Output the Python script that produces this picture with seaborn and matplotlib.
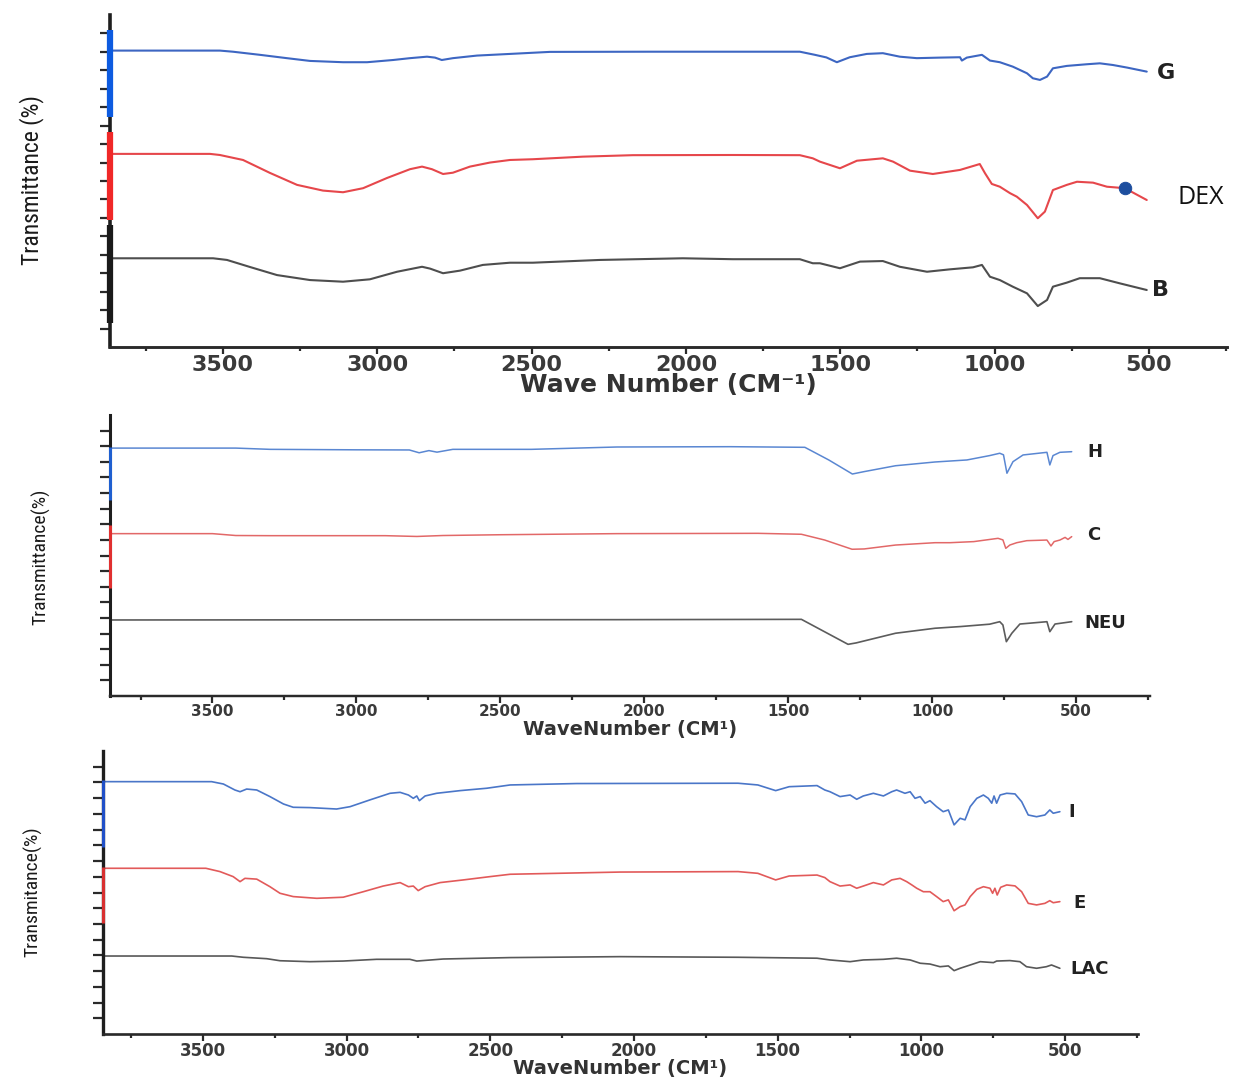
import numpy as np
import pandas as pd
import seaborn as sns
import matplotlib.pyplot as plt

sns.set_style("ticks")
plt.rcParams['font.family'] = ['DejaVu Sans']

# ---------------- FTIR spectra (wavenumber in cm-1, stacked transmittance) ----------------
# Panel 1: G, DEX, B
g_wn = [3866, 3510, 3468, 3380, 3293, 3218, 3111, 3033, 2949, 2894, 2839, 2813, 2791, 2755, 2677,
        2570, 2441, 2117, 1631, 1582, 1545, 1511, 1469, 1414, 1362, 1307, 1252, 1177, 1112, 1106,
        1090, 1041, 1015, 983, 941, 895, 876, 853, 830, 811, 766, 701, 659, 617, 571, 507]
g_t = [16.07, 16.07, 16.01, 15.84, 15.66, 15.51, 15.44, 15.44, 15.56, 15.66, 15.74, 15.69, 15.56,
       15.66, 15.80, 15.89, 16.00, 16.01, 16.01, 15.84, 15.70, 15.44, 15.71, 15.89, 15.93, 15.74,
       15.66, 15.69, 15.71, 15.53, 15.69, 15.84, 15.53, 15.44, 15.20, 14.84, 14.57, 14.48, 14.66,
       15.11, 15.24, 15.33, 15.38, 15.29, 15.15, 14.93]

dex_wn = [3866, 3542, 3510, 3435, 3348, 3260, 3176, 3111, 3046, 2969, 2894, 2855, 2823, 2787, 2755,
          2700, 2635, 2570, 2496, 2334, 2172, 1848, 1631, 1589, 1566, 1501, 1446, 1362, 1329, 1274,
          1200, 1112, 1048, 1031, 1009, 983, 950, 928, 895, 860, 837, 811, 766, 733, 681, 636, 578, 507]
dex_t = [10.47, 10.47, 10.41, 10.14, 9.44, 8.79, 8.48, 8.39, 8.61, 9.16, 9.64, 9.78, 9.64, 9.38,
         9.45, 9.78, 10.00, 10.14, 10.18, 10.32, 10.40, 10.41, 10.40, 10.23, 10.05, 9.69, 10.10,
         10.23, 10.05, 9.56, 9.38, 9.60, 9.92, 9.42, 8.84, 8.69, 8.34, 8.15, 7.70, 6.98, 7.34, 8.51,
         8.79, 8.96, 8.91, 8.69, 8.61, 7.97]
dex_mark_wn = [578]
dex_mark_t = [8.61]

b_wn = [3866, 3532, 3487, 3413, 3325, 3218, 3111, 3024, 2936, 2855, 2829, 2787, 2732, 2658, 2570,
        2496, 2279, 2010, 1848, 1631, 1589, 1566, 1501, 1436, 1362, 1307, 1219, 1145, 1070, 1041,
        1015, 983, 941, 895, 860, 830, 811, 766, 724, 659, 594, 507]
b_t = [4.81, 4.81, 4.72, 4.34, 3.90, 3.63, 3.54, 3.67, 4.08, 4.35, 4.25, 4.00, 4.14, 4.45, 4.57,
       4.57, 4.72, 4.81, 4.76, 4.76, 4.54, 4.54, 4.27, 4.63, 4.66, 4.35, 4.08, 4.21, 4.32, 4.45,
       3.81, 3.63, 3.27, 2.91, 2.22, 2.55, 3.27, 3.49, 3.73, 3.73, 3.45, 3.09]

# Panel 2: H, C, NEU
h_wn = [3856, 3419, 3300, 3000, 2816, 2782, 2748, 2720, 2665, 2392, 2095, 1700, 1442, 1359, 1277,
        1237, 1127, 990, 879, 800, 765, 752, 740, 719, 684, 601, 591, 580, 556, 515]
h_t = [15.88, 15.88, 15.80, 15.77, 15.76, 15.58, 15.72, 15.62, 15.80, 15.80, 15.95, 15.97, 15.93,
       15.12, 14.22, 14.37, 14.75, 14.99, 15.12, 15.40, 15.55, 15.45, 14.27, 15.01, 15.44, 15.61,
       14.80, 15.40, 15.61, 15.65]

c_wn = [3856, 3500, 3419, 3300, 2900, 2790, 2700, 2500, 2095, 1605, 1454, 1373, 1278, 1236, 1127,
        990, 938, 855, 771, 754, 744, 730, 706, 671, 601, 587, 576, 556, 538, 528, 515]
c_t = [10.40, 10.40, 10.28, 10.27, 10.27, 10.22, 10.28, 10.33, 10.40, 10.42, 10.36, 9.99, 9.40,
       9.42, 9.67, 9.82, 9.82, 9.89, 10.10, 10.00, 9.46, 9.67, 9.82, 9.95, 9.99, 9.61, 9.89, 9.99,
       10.16, 10.03, 10.21]

neu_wn = [3856, 2095, 1454, 1292, 1264, 1127, 990, 900, 800, 765, 754, 742, 723, 695, 601, 591,
          573, 515]
neu_t = [4.87, 4.89, 4.91, 3.31, 3.40, 4.02, 4.34, 4.45, 4.60, 4.76, 4.55, 3.48, 4.02, 4.61, 4.76,
         4.12, 4.61, 4.76]

# Panel 3: I, E, LAC
i_wn = [3848, 3470, 3429, 3389, 3371, 3348, 3313, 3267, 3220, 3186, 3128, 3035, 2988, 2919, 2849,
        2814, 2785, 2768, 2756, 2747, 2727, 2687, 2605, 2513, 2431, 2200, 1638, 1569, 1507, 1460,
        1363, 1336, 1318, 1283, 1248, 1225, 1202, 1167, 1132, 1103, 1086, 1057, 1039, 1022, 1004,
        987, 970, 947, 924, 906, 886, 865, 848, 830, 807, 784, 767, 755, 747, 738, 726, 703, 674,
        651, 628, 599, 570, 553, 541, 518]
i_t = [16.05, 16.05, 15.90, 15.52, 15.41, 15.58, 15.52, 15.10, 14.63, 14.42, 14.40, 14.31, 14.46,
       14.89, 15.31, 15.37, 15.20, 14.99, 15.14, 14.84, 15.14, 15.31, 15.48, 15.63, 15.84, 15.93,
       15.95, 15.84, 15.48, 15.73, 15.80, 15.52, 15.41, 15.10, 15.20, 14.93, 15.14, 15.31, 15.14,
       15.41, 15.52, 15.31, 15.41, 14.99, 15.10, 14.68, 14.84, 14.46, 14.14, 14.25, 13.30, 13.72,
       13.62, 14.46, 14.99, 15.20, 14.99, 14.68, 15.14, 14.68, 15.20, 15.31, 15.27, 14.78, 13.93,
       13.82, 13.93, 14.25, 14.04, 14.14]

e_wn = [3848, 3490, 3441, 3395, 3371, 3354, 3313, 3267, 3232, 3186, 3104, 3012, 2942, 2873, 2814,
        2785, 2768, 2751, 2727, 2675, 2594, 2501, 2431, 2049, 1638, 1569, 1507, 1460, 1363, 1336,
        1318, 1283, 1248, 1225, 1202, 1167, 1132, 1103, 1074, 1051, 1033, 1016, 993, 970, 947, 924,
        906, 886, 865, 848, 830, 807, 784, 761, 752, 744, 736, 724, 703, 674, 651, 628, 599, 570,
        553, 541, 518]
e_t = [10.54, 10.54, 10.33, 10.01, 9.69, 9.90, 9.85, 9.37, 8.95, 8.74, 8.63, 8.70, 9.05, 9.41,
       9.63, 9.37, 9.41, 9.12, 9.37, 9.63, 9.80, 10.01, 10.16, 10.30, 10.33, 10.22, 9.80, 10.05,
       10.11, 9.95, 9.69, 9.41, 9.48, 9.27, 9.41, 9.63, 9.48, 9.80, 9.90, 9.69, 9.48, 9.27, 9.05,
       9.05, 8.74, 8.42, 8.53, 7.84, 8.10, 8.21, 8.74, 9.20, 9.37, 9.27, 8.95, 9.27, 8.84, 9.33,
       9.48, 9.42, 9.05, 8.31, 8.21, 8.31, 8.48, 8.35, 8.42]

lac_wn = [3848, 3400, 3360, 3278, 3232, 3128, 3012, 2896, 2780, 2756, 2664, 2431, 2049, 1638, 1363,
          1318, 1248, 1202, 1132, 1086, 1039, 1004, 970, 935, 906, 886, 865, 830, 795, 749, 738,
          692, 657, 634, 599, 565, 547, 518]
lac_t = [4.96, 4.96, 4.88, 4.79, 4.66, 4.60, 4.64, 4.75, 4.75, 4.64, 4.77, 4.86, 4.92, 4.88, 4.82,
         4.71, 4.60, 4.71, 4.75, 4.82, 4.71, 4.50, 4.45, 4.28, 4.33, 4.03, 4.18, 4.39, 4.60, 4.54,
         4.64, 4.67, 4.60, 4.28, 4.18, 4.28, 4.39, 4.18]

# Axis ticks
major_ticks = [3500, 3000, 2500, 2000, 1500, 1000, 500]
tick_labels = ["3500", "3000", "2500", "2000", "1500", "1000", "500"]
minor_ticks = [3750, 3250, 2750, 2250, 1750, 1250, 750, 250]

# Coloured layer bars along each y axis (bottom, top) in axis units
layer_bars_1 = [(12.47, 17.19), (6.89, 11.66), (1.30, 6.62)]
layer_bars_2 = [(12.56, 15.95), (6.92, 10.95)]
layer_bars_3 = [(11.90, 16.16), (7.06, 10.62)]

narrow = ['Liberation Sans Narrow', 'Roboto Condensed', 'DejaVu Sans']

fig = plt.figure(figsize=(12.37, 10.78), dpi=100)
fig.patch.set_facecolor('white')

ax1 = fig.add_axes([110 / 1237, 1 - 347 / 1078, 1117 / 1237, 332 / 1078])
ax2 = fig.add_axes([110 / 1237, 1 - 696 / 1078, 1040 / 1237, 281 / 1078])
ax3 = fig.add_axes([103 / 1237, 1 - 1034 / 1078, 1035 / 1237, 283 / 1078])


def draw(ax, wn, t, color, lw):
    sns.lineplot(x=wn, y=t, ax=ax, color=color, linewidth=lw, estimator=None, sort=False)


def style(ax, xlim, tick_fs, spine_lw, ylabel, ylab_fs, ylab_xy, xlabel, xlab_fs, xlab_y,
          bars, bar_colors, bar_lw):
    ax.set_xlim(*xlim)
    ax.set_ylim(0, 18)
    ax.set_xticks(major_ticks)
    ax.set_xticklabels(tick_labels, fontsize=tick_fs, fontweight='bold', color='#3a3a3a')
    ax.set_xticks(minor_ticks, minor=True)
    ax.set_yticks(range(1, 18))
    ax.set_yticklabels([])
    sns.despine(ax=ax)
    ax.spines['left'].set_linewidth(spine_lw)
    ax.spines['bottom'].set_linewidth(spine_lw * 0.8)
    ax.spines['left'].set_color('#1e1e1e')
    ax.spines['bottom'].set_color('#2a2a2a')
    ax.tick_params(axis='y', direction='out', length=7, width=1.6, color='#2a2a2a')
    ax.tick_params(axis='x', which='major', direction='out', length=5, width=1.6,
                   color='#2a2a2a', pad=1)
    ax.tick_params(axis='x', which='minor', direction='out', length=3, width=1.6,
                   color='#2a2a2a')
    ax.set_ylabel(ylabel, fontsize=ylab_fs, family=narrow, fontstretch='condensed',
                  color='#1a1a1a', va='center')
    ax.yaxis.set_label_coords(*ylab_xy)
    ax.set_xlabel(xlabel, fontsize=xlab_fs, fontweight='bold', color='#333333', va='center')
    ax.xaxis.set_label_coords(0.5, xlab_y)
    ax.set_facecolor('white')
    for (lo, hi), col in zip(bars, bar_colors):
        ax.plot([xlim[0], xlim[0]], [lo, hi], color=col, lw=bar_lw, clip_on=False,
                solid_capstyle='butt', zorder=5)


# ---- panel 1 ----
draw(ax1, g_wn, g_t, '#3d66c2', 1.5)
draw(ax1, dex_wn, dex_t, '#e6474b', 1.5)
draw(ax1, b_wn, b_t, '#4e4e4e', 1.5)
sns.scatterplot(x=dex_mark_wn, y=dex_mark_t, ax=ax1, color='#1d4e9e', s=80,
                edgecolor='#1d4e9e', zorder=6)
style(ax1, (3866, 247), 16, 2.6, 'Transmittance (%)', 17, (-0.070, 0.503),
      'Wave Number (CM⁻¹)', 18, -0.115, layer_bars_1,
      ['#0d5be0', '#f02828', '#1a1a1a'], 4.5)
ax1.text(474, 14.86, 'G', fontsize=16, fontweight='bold', color='#222222', va='center')
ax1.text(406, 8.13, 'DEX', fontsize=18, family=['Open Sans', 'DejaVu Sans'],
         color='#111111', va='center')
ax1.text(490, 3.09, 'B', fontsize=16, fontweight='bold', color='#222222', va='center')

# ---- panel 2 ----
draw(ax2, h_wn, h_t, '#5a87d2', 1.1)
draw(ax2, c_wn, c_t, '#e26868', 1.1)
draw(ax2, neu_wn, neu_t, '#5c5c5c', 1.2)
style(ax2, (3856, 243), 11, 2.2, 'Transmittance(%)', 14, (-0.067, 0.495),
      'WaveNumber (CM¹)', 14, -0.118, layer_bars_2, ['#1f5fd0', '#e03030'], 2.2)
ax2.text(462, 15.63, 'H', fontsize=13, fontweight='bold', color='#222222', va='center')
ax2.text(462, 10.31, 'C', fontsize=13, fontweight='bold', color='#222222', va='center')
ax2.text(470, 4.68, 'NEU', fontsize=13, fontweight='bold', color='#222222', va='center')

# ---- panel 3 ----
draw(ax3, i_wn, i_t, '#4a76c8', 1.2)
draw(ax3, e_wn, e_t, '#e25a5a', 1.2)
draw(ax3, lac_wn, lac_t, '#585858', 1.2)
style(ax3, (3848, 246), 12, 2.4, 'Transmitance(%)', 14, (-0.068, 0.502),
      'WaveNumber (CM¹)', 14, -0.122, layer_bars_3, ['#2050c8', '#d83030'], 2.2)
ax3.text(489, 14.14, 'I', fontsize=13, fontweight='bold', color='#222222', va='center')
ax3.text(472, 8.35, 'E', fontsize=13, fontweight='bold', color='#222222', va='center')
ax3.text(482, 4.13, 'LAC', fontsize=13, fontweight='bold', color='#222222', va='center')

fig.savefig('out.png', dpi=100, facecolor='white')
